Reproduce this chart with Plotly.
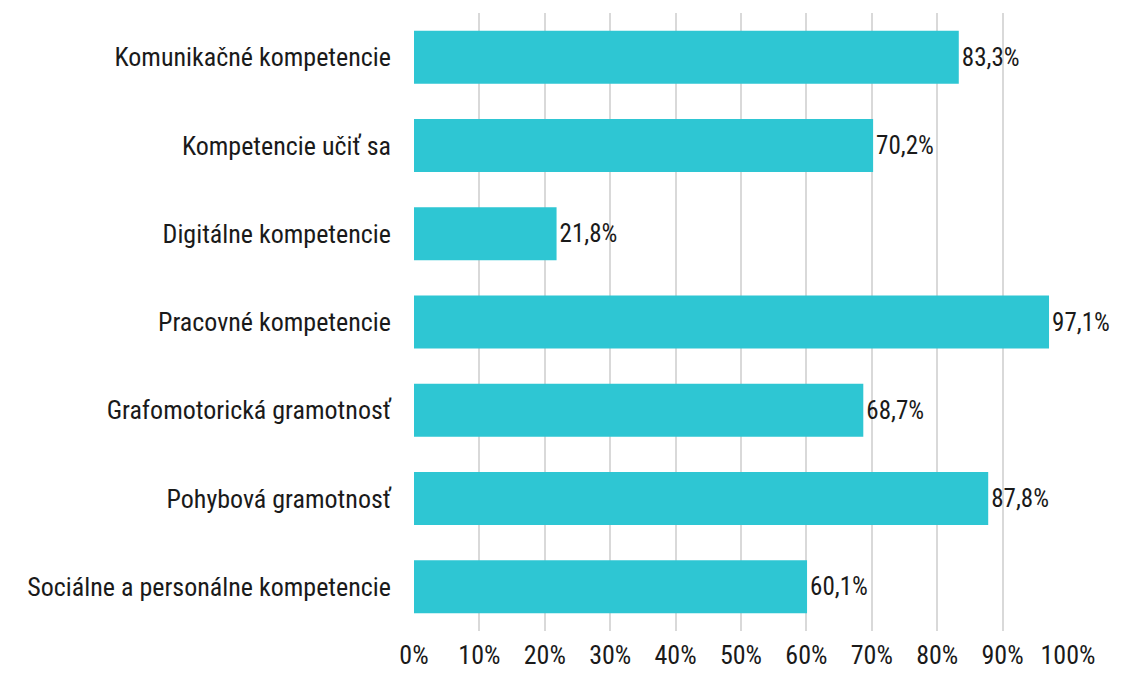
import plotly.graph_objects as go

# data (top to bottom as in the picture)
categories = [
    "Komunikačné kompetencie",
    "Kompetencie učiť sa",
    "Digitálne kompetencie",
    "Pracovné kompetencie",
    "Grafomotorická gramotnosť",
    "Pohybová gramotnosť",
    "Sociálne a personálne kompetencie",
]
values = [83.3, 70.2, 21.8, 97.1, 68.7, 87.8, 60.1]
x_ticks = list(range(0, 101, 10))
x_tick_labels = [f"{t}%" for t in x_ticks]

font_family = "Roboto Condensed, Roboto, sans-serif"

fig = go.Figure()

fig.add_trace(go.Bar(
    y = categories,
    x = values,
    orientation = "h",
    marker = dict(color = "#2EC6D3", line = dict(width = 0)),
    width = 0.6,
    texttemplate = "%{x:.1f}%",
    textposition = "outside",
    textfont = dict(family = font_family, size = 25, color = "#1a1a1a"),
    cliponaxis = False,
    hoverinfo = "skip",
))

# page body adds 8px margin all round, so keep the figure small enough
# that the page does not scroll
fig.update_layout(
    width = 1114,
    height = 659,
    margin = dict(l = 406, r = 54, t = 5, b = 36, autoexpand = False),
    plot_bgcolor = "white",
    paper_bgcolor = "white",
    separators = ",.",
    showlegend = False,
    font = dict(family = font_family, size = 26, color = "#1a1a1a"),
    uniformtext = dict(minsize = 25, mode = "show"),
)

fig.update_xaxes(
    range = [0, 100],
    tickvals = x_ticks,
    ticktext = x_tick_labels,
    showgrid = True,
    gridcolor = "#d9d9d9",
    gridwidth = 2,
    zeroline = False,
    showline = False,
    automargin = False,
    ticklabelstandoff = 6,
    tickfont = dict(size = 26),
)

fig.update_yaxes(
    categoryorder = "array",
    categoryarray = categories[::-1],
    range = [-0.5, 6.5],
    showgrid = False,
    zeroline = False,
    showline = False,
    automargin = False,
    ticks = "",
    ticklabelstandoff = 22,
    tickfont = dict(size = 26),
)

fig.write_html("out.html")
